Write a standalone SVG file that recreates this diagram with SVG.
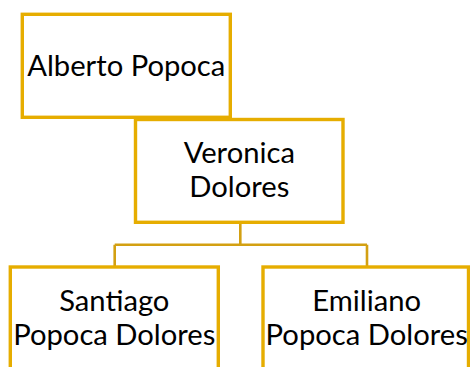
<svg xmlns="http://www.w3.org/2000/svg" width="470" height="367" viewBox="0 0 470 367">
<style>
.box{fill:#fff;stroke:#E6AD00;stroke-width:3.4}
.conn{fill:none;stroke:#D3A012;stroke-width:2.6}
text{font-family:Lato,"Open Sans","Liberation Sans",sans-serif;font-size:29.2px;fill:#000;text-anchor:middle}
</style>
<rect width="470" height="367" fill="#fff"/>
<g id="connectors">
<path class="conn" d="M240.3,222.5 V244.8 M114.7,244.8 H367 M114.7,244.8 V267 M367,244.8 V267"/>
</g>
<g id="alberto">
<rect class="box" x="22.3" y="14.3" width="208" height="103"/>
<text x="126.3" y="76">Alberto Popoca</text>
</g>
<g id="veronica">
<rect class="box" x="135.5" y="119.5" width="207.5" height="102.8"/>
<text x="239.3" y="163.3">Veronica</text>
<text x="239.3" y="197.3">Dolores</text>
</g>
<g id="santiago">
<rect class="box" x="10.3" y="267" width="208" height="110"/>
<text x="114.3" y="311">Santiago</text>
<text x="114.3" y="345">Popoca Dolores</text>
</g>
<g id="emiliano">
<rect class="box" x="263" y="267" width="205.5" height="110"/>
<text x="366.7" y="311">Emiliano</text>
<text x="366.7" y="345">Popoca Dolores</text>
</g>
</svg>
